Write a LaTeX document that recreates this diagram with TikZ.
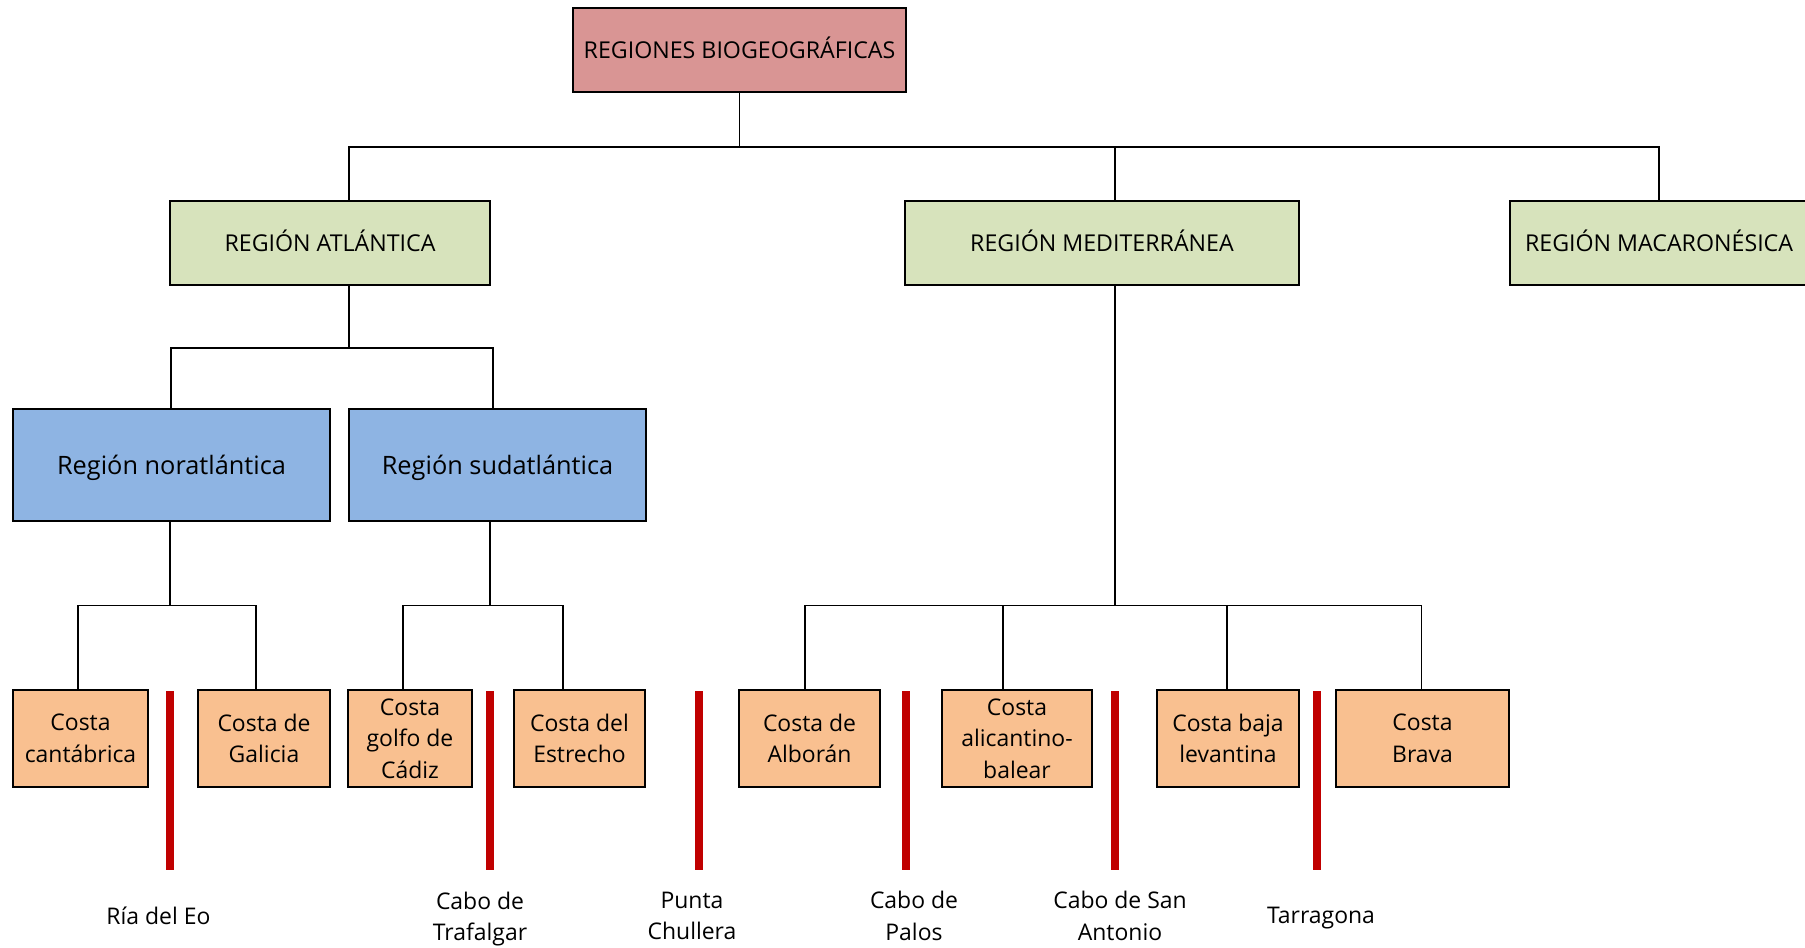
\documentclass[tikz,border=0pt]{standalone}
\usepackage{fontspec}
\setmainfont{Open Sans}
\definecolor{toprd}{HTML}{D99594}
\definecolor{regg}{HTML}{D7E3BC}
\definecolor{subb}{HTML}{8EB4E3}
\definecolor{costa}{HTML}{F9C090}
\definecolor{barred}{HTML}{C00000}
\newcommand\mybox[7]{\node[#6, minimum width={(#4-#2)*0.75pt}, minimum height={(#5-#3)*0.75pt}] (#1) at ({(#2+#4)/2},{(#3+#5)/2}) {#7};}
\begin{document}
\begin{tikzpicture}[x=0.75pt,y=-0.75pt,
  bx/.style={draw=black, line width=1.5pt, inner sep=0pt, align=center, text=black},
  capbox/.style={bx, font=\fontsize{17.4}{23}\selectfont, text height=12.4pt, text depth=0pt},
  topbox/.style={capbox, fill=toprd},
  regbox/.style={capbox, fill=regg},
  subbox/.style={bx, fill=subb, font=\fontsize{19}{25}\selectfont, text height=13.6pt, text depth=0pt},
  costabox/.style={bx, fill=costa, font=\fontsize{17.2}{23.7}\selectfont},
  redbar/.style={fill=barred, draw=none, inner sep=0pt, minimum width=6pt, minimum height={179*0.75pt}},
  lbl/.style={align=center, inner sep=0pt, font=\fontsize{17.2}{23.7}\selectfont},
  conn/.style={draw=black, line width=1.3pt, line join=miter}]
\useasboundingbox (0,0) rectangle (1805,947);
\fill[white] (0,0) rectangle (1805,947);
% boxes
\mybox{top}{573}{8}{906}{92}{topbox}{REGIONES BIOGEOGRÁFICAS}
\mybox{atl}{170}{201}{490}{285}{regbox}{REGIÓN ATLÁNTICA}
\mybox{med}{905}{201}{1299}{285}{regbox}{REGIÓN MEDITERRÁNEA}
\mybox{mac}{1510}{201}{1808}{285}{regbox}{REGIÓN MACARONÉSICA}
\mybox{nor}{13}{409}{330}{521}{subbox}{Región noratlántica}
\mybox{sud}{349}{409}{646}{521}{subbox}{Región sudatlántica}
\mybox{c1}{13}{690}{148}{787}{costabox}{Costa\\cantábrica}
\mybox{c2}{198}{690}{330}{787}{costabox}{Costa de\\Galicia}
\mybox{c3}{348}{690}{472}{787}{costabox}{Costa\\golfo de\\Cádiz}
\mybox{c4}{514}{690}{645}{787}{costabox}{Costa del\\Estrecho}
\mybox{c5}{739}{690}{880}{787}{costabox}{Costa de\\Alborán}
\mybox{c6}{942}{690}{1092}{787}{costabox}{Costa\\alicantino-\\balear}
\mybox{c7}{1157}{690}{1299}{787}{costabox}{Costa baja\\levantina}
\mybox{c8}{1336}{690}{1509}{787}{costabox}{Costa\\Brava}
% red bars
\node[redbar] (r1) at (169.7,780.5) {};
\node[redbar] (r2) at (489.5,780.5) {};
\node[redbar] (r3) at (699.3,780.5) {};
\node[redbar] (r4) at (905.5,780.5) {};
\node[redbar] (r5) at (1114.5,780.5) {};
\node[redbar] (r6) at (1316.5,780.5) {};
% labels
\node[lbl] (l1) at (158.4,915.5) {Ría del Eo};
\node[lbl] (l2) at (480,919) {Cabo de\\Trafalgar};
\node[lbl] (l3) at (692,916) {Punta\\Chullera};
\node[lbl] (l4) at (914,916) {Cabo de\\Palos};
\node[lbl] (l5) at (1120,916) {Cabo de San\\Antonio};
\node[lbl] (l6) at (1321,918) {Tarragona};
% connectors level 1
\coordinate (b1a) at (349,146.7);
\coordinate (b1m) at (1114.8,146.7);
\coordinate (b1c) at (1659,146.7);
\draw[conn] (top.south) -- (top.south |- b1a);
\draw[conn] (b1a |- atl.north) -- (b1a) -- (b1c) -- (b1c |- mac.north);
\draw[conn] (b1m) -- (b1m |- med.north);
% atlantic
\coordinate (b2a) at (349,347.8);
\coordinate (b2l) at (170.8,347.8);
\coordinate (b2r) at (492.9,347.8);
\draw[conn] (b2a |- atl.south) -- (b2a);
\draw[conn] (b2l |- nor.north) -- (b2l) -- (b2r) -- (b2r |- sud.north);
% noratlantica
\coordinate (b3n) at (170.2,605.5);
\coordinate (b3nl) at (78,605.5);
\coordinate (b3nr) at (256,605.5);
\draw[conn] (b3n |- nor.south) -- (b3n);
\draw[conn] (b3nl |- c1.north) -- (b3nl) -- (b3nr) -- (b3nr |- c2.north);
% sudatlantica
\coordinate (b3s) at (490,605.5);
\coordinate (b3sl) at (403.3,605.5);
\coordinate (b3sr) at (562.7,605.5);
\draw[conn] (b3s |- sud.south) -- (b3s);
\draw[conn] (b3sl |- c3.north) -- (b3sl) -- (b3sr) -- (b3sr |- c4.north);
% mediterranea
\coordinate (b3m) at (1114.8,605.5);
\coordinate (b3m1) at (805,605.5);
\coordinate (b3m2) at (1003,605.5);
\coordinate (b3m3) at (1227,605.5);
\coordinate (b3m4) at (1421.6,605.5);
\draw[conn] (b3m |- med.south) -- (b3m);
\draw[conn] (b3m1 |- c5.north) -- (b3m1) -- (b3m4) -- (b3m4 |- c8.north);
\draw[conn] (b3m2) -- (b3m2 |- c6.north);
\draw[conn] (b3m3) -- (b3m3 |- c7.north);
\end{tikzpicture}
\end{document}
